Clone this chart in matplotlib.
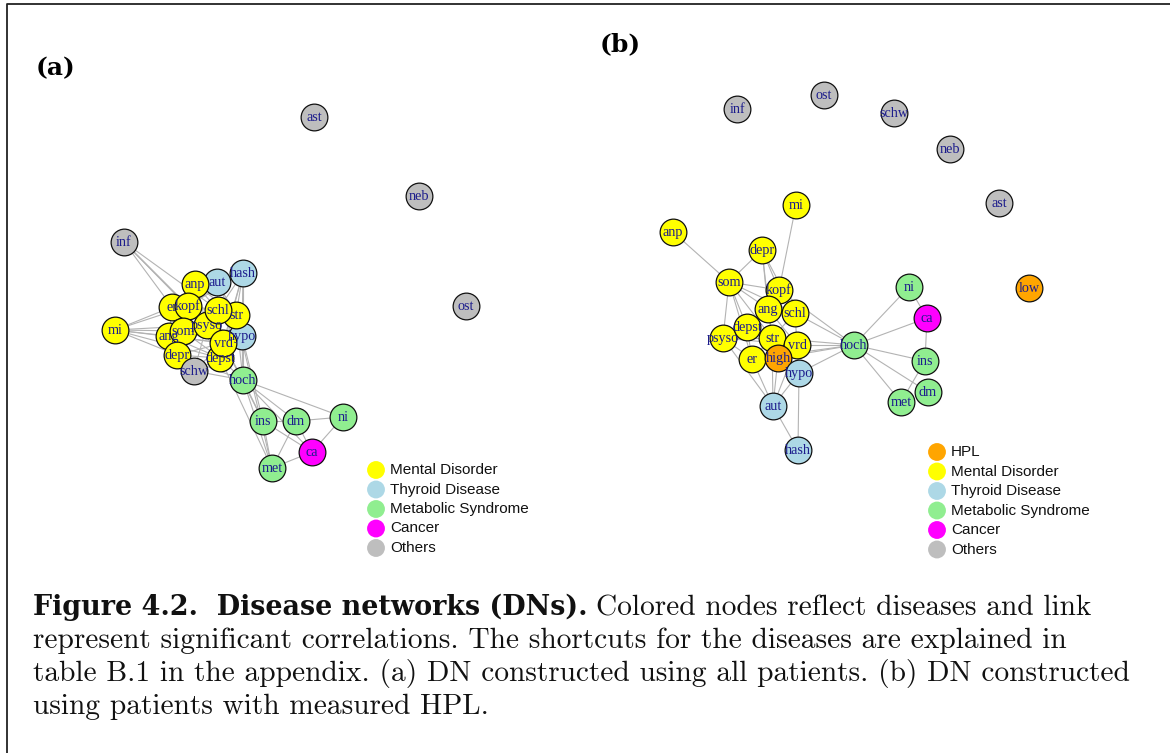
import matplotlib
matplotlib.use("Agg")
import matplotlib.pyplot as plt
from matplotlib.collections import LineCollection

# colours of the disease groups (R colour names)
group_colors = {
    "HPL": "#FFA500",
    "Mental Disorder": "#FFFF00",
    "Thyroid Disease": "#ADD8E6",
    "Metabolic Syndrome": "#90EE90",
    "Cancer": "#FF00FF",
    "Others": "#BEBEBE",
}

# ---- panel (a): all patients ----
nodes_a = ["aut", "hash", "hypo", "inf", "mi", "er", "anp", "kopf", "ang", "som",
           "psyso", "depr", "depst", "str", "schl", "vrd", "schw", "hoch", "ins",
           "dm", "ni", "ca", "met", "ast", "neb", "ost"]
x_a = [217, 243, 242, 124, 115, 172, 195, 188, 169, 183, 207, 177, 220, 236, 218,
       223, 194, 243, 263, 296, 343, 312, 272, 314, 419, 466]
y_a = [282, 273, 336, 242, 330, 307, 284, 306, 336, 331, 325, 355, 358, 315, 310,
       343, 371, 380, 421, 421, 417, 452, 468, 117, 196, 306]
group_a = ["Thyroid Disease"] * 3 + ["Others"] + ["Mental Disorder"] * 12 + \
          ["Others", "Metabolic Syndrome", "Metabolic Syndrome", "Metabolic Syndrome",
           "Metabolic Syndrome", "Cancer", "Metabolic Syndrome", "Others", "Others", "Others"]
edges_a = [
    ("inf", "kopf"), ("inf", "schl"), ("inf", "psyso"), ("inf", "er"), ("inf", "vrd"),
    ("mi", "er"), ("mi", "kopf"), ("mi", "ang"), ("mi", "som"), ("mi", "psyso"),
    ("mi", "depr"), ("mi", "depst"), ("mi", "vrd"),
    ("er", "kopf"), ("er", "ang"), ("er", "som"), ("er", "psyso"), ("er", "depr"),
    ("er", "schl"), ("er", "vrd"), ("anp", "kopf"), ("anp", "schl"), ("anp", "aut"),
    ("anp", "psyso"), ("anp", "str"), ("kopf", "schl"), ("kopf", "psyso"),
    ("kopf", "som"), ("kopf", "depst"), ("kopf", "vrd"), ("kopf", "hash"),
    ("ang", "som"), ("ang", "depr"), ("ang", "psyso"), ("ang", "vrd"), ("ang", "depst"),
    ("ang", "schw"), ("som", "psyso"), ("som", "depr"), ("som", "depst"), ("som", "vrd"),
    ("som", "schw"), ("som", "str"), ("psyso", "schl"), ("psyso", "vrd"),
    ("psyso", "depst"), ("psyso", "depr"), ("psyso", "hypo"), ("psyso", "schw"),
    ("depr", "depst"), ("depr", "vrd"), ("depr", "schw"), ("depr", "hoch"),
    ("depst", "vrd"), ("depst", "schw"), ("depst", "hoch"), ("depst", "hypo"),
    ("str", "schl"), ("str", "hypo"), ("str", "hash"), ("str", "vrd"), ("str", "aut"),
    ("schl", "vrd"), ("schl", "aut"), ("schl", "hash"), ("schl", "hypo"),
    ("vrd", "hypo"), ("vrd", "hoch"), ("vrd", "hash"), ("aut", "hash"), ("aut", "hypo"),
    ("hash", "hypo"), ("hash", "hoch"), ("hash", "depst"), ("hypo", "hoch"),
    ("schw", "hoch"), ("schw", "vrd"), ("str", "hoch"),
    ("hoch", "ins"), ("hoch", "dm"), ("hoch", "ni"), ("hoch", "met"), ("hoch", "ca"),
    ("hypo", "ins"), ("depst", "met"), ("vrd", "ins"), ("str", "met"),
    ("ins", "dm"), ("ins", "met"), ("ins", "ca"), ("dm", "ni"), ("dm", "met"),
    ("dm", "ca"), ("ni", "ca"), ("met", "ca"),
]

# ---- panel (b): patients with measured HPL ----
nodes_b = ["inf", "ost", "schw", "neb", "ast", "low", "mi", "anp", "depr", "som",
           "psyso", "kopf", "depst", "ang", "schl", "str", "er", "vrd", "high", "aut",
           "hypo", "hash", "hoch", "ni", "ca", "ins", "dm", "met"]
x_b = [737, 824, 894, 950, 999, 1029, 796, 673, 762, 729, 723, 779, 747, 768, 795,
       772, 752, 797, 778, 773, 799, 798, 854, 909, 927, 925, 928, 901]
y_b = [109, 95, 113, 149, 203, 288, 205, 232, 250, 282, 338, 290, 327, 309, 313,
       338, 359, 345, 358, 406, 373, 450, 345, 287, 318, 361, 392, 402]
group_b = ["Others"] * 5 + ["HPL"] + ["Mental Disorder"] * 12 + ["HPL"] + \
          ["Thyroid Disease"] * 3 + ["Metabolic Syndrome", "Metabolic Syndrome",
           "Cancer", "Metabolic Syndrome", "Metabolic Syndrome", "Metabolic Syndrome"]
edges_b = [
    ("anp", "som"), ("som", "depr"), ("som", "kopf"), ("som", "ang"), ("som", "depst"),
    ("som", "psyso"), ("som", "str"), ("som", "schl"), ("som", "er"),
    ("depr", "kopf"), ("depr", "ang"), ("depr", "schl"), ("depr", "str"),
    ("mi", "kopf"), ("kopf", "ang"), ("kopf", "schl"), ("kopf", "depst"),
    ("kopf", "hoch"), ("ang", "schl"), ("ang", "depst"), ("ang", "str"),
    ("ang", "vrd"), ("ang", "psyso"), ("schl", "str"), ("schl", "vrd"),
    ("schl", "hoch"), ("depst", "psyso"), ("depst", "str"), ("depst", "er"),
    ("psyso", "str"), ("psyso", "er"), ("psyso", "vrd"), ("psyso", "aut"),
    ("str", "vrd"), ("str", "er"), ("str", "high"), ("str", "aut"), ("str", "hoch"),
    ("vrd", "hoch"), ("vrd", "high"), ("vrd", "hypo"), ("vrd", "aut"),
    ("er", "high"), ("er", "aut"), ("high", "hoch"), ("high", "aut"),
    ("high", "hypo"), ("hypo", "hoch"), ("hypo", "hash"), ("hypo", "aut"),
    ("aut", "hash"), ("er", "hoch"),
    ("hoch", "ni"), ("hoch", "ca"), ("hoch", "ins"), ("hoch", "dm"), ("hoch", "met"),
    ("ni", "ca"), ("ca", "ins"), ("ins", "met"),
]

legend_a = ["Mental Disorder", "Thyroid Disease", "Metabolic Syndrome", "Cancer", "Others"]
legend_b = ["HPL", "Mental Disorder", "Thyroid Disease", "Metabolic Syndrome", "Cancer", "Others"]

caption_bold = "Figure 4.2.  Disease networks (DNs)."
caption = [
    "Colored nodes reflect diseases and link",
    "represent significant correlations. The shortcuts for the diseases are explained in",
    "table B.1 in the appendix. (a) DN constructed using all patients. (b) DN constructed",
    "using patients with measured HPL.",
]


def draw_network(ax, nodes, xs, ys, groups, edges):
    pos = {n: (x, y) for n, x, y in zip(nodes, xs, ys)}
    segs = [[pos[a], pos[b]] for a, b in edges]
    ax.add_collection(LineCollection(segs, colors="#b3b3b3", linewidths=0.8, zorder=1))
    for i, n in enumerate(nodes):
        ax.scatter(xs[i], ys[i], s=370, c=group_colors[groups[i]], edgecolors="#111111",
                   linewidths=0.9, zorder=2 + i * 0.01)
    for n, x, y in zip(nodes, xs, ys):
        ax.text(x, y, n, ha="center", va="center", fontsize=10.2, color="#1c1c8c",
                family="Liberation Serif", zorder=5)


def draw_legend(ax, x0, y0, labels):
    for i, lab in enumerate(labels):
        y = y0 + i * 19.5
        ax.scatter(x0, y, s=165, c=group_colors[lab], edgecolors="none", zorder=3)
        ax.text(x0 + 14, y, lab, ha="left", va="center", fontsize=11,
                family="Liberation Sans", color="#111111")


fig = plt.figure(figsize=(11.7, 7.53), dpi=100)
ax = fig.add_axes([0, 0, 1, 1])
ax.set_xlim(0, 1170)
ax.set_ylim(753, 0)
ax.axis("off")

draw_network(ax, nodes_a, x_a, y_a, group_a, edges_a)
draw_network(ax, nodes_b, x_b, y_b, group_b, edges_b)
draw_legend(ax, 376, 470, legend_a)
draw_legend(ax, 937, 452, legend_b)

ax.text(55, 68, "(a)", ha="center", va="center", fontsize=18, family="DejaVu Serif",
        weight="bold")
ax.text(620, 44, "(b)", ha="center", va="center", fontsize=18, family="DejaVu Serif",
        weight="bold")

# caption: bold head (wide bold face), then the rest of line one follows it
cap_size = 21.2
renderer = fig.canvas.get_renderer()
tb = ax.text(33, 615, caption_bold, ha="left", va="baseline", fontsize=19,
             family="DejaVu Serif", weight="bold", color="#111111")
w = tb.get_window_extent(renderer).width
tb.set_fontsize(19 * 555 / w)
bold_w = tb.get_window_extent(renderer).width
ax.text(33 + bold_w + 8, 615, caption[0], ha="left", va="baseline", fontsize=cap_size,
        family="cmr10", color="#111111")
for i, line in enumerate(caption[1:], start=1):
    ax.text(33, 615 + i * 33, line, ha="left", va="baseline", fontsize=cap_size,
            family="cmr10", color="#111111")

# frame (only top and left edges are inside the crop)
ax.plot([7, 7, 1170], [753, 4, 4], color="#222222", lw=1.3, solid_capstyle="butt")

fig.savefig("out.png", dpi=100)
